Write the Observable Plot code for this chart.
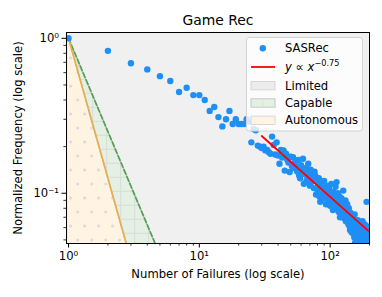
<!DOCTYPE html>
<html>
<head>
<meta charset="utf-8">
<script src="https://cdn.jsdelivr.net/npm/d3@7"></script>
<script src="https://cdn.jsdelivr.net/npm/@observablehq/plot@0.6"></script>
<style>
  html, body { margin: 0; padding: 0; background: white; }
  #chart { width: 382px; height: 297px; }
</style>
</head>
<body>
<div id="chart"></div>
<script>
// ---- data ----
const failures = [
  1,2,3,4,5,6,7,8,9,10,11,12,13,14,15,16,17,18,19,20,
  21,22,23,24,25,26,27,28,29,30,31,32,33,34,35,36,37,38,39,40,
  41,42,43,44,45,46,47,48,49,50,51,52,53,54,55,56,57,58,59,60,
  61,62,63,64,65,66,67,68,69,70,71,72,73,74,75,76,77,78,79,80,
  81,82,83,84,85,86,87,88,89,90,91,92,93,94,95,96,97,98,99,100,
  101,102,103,104,105,106,107,108,109,110,111,112,113,114,115,116,117,118,119,120,
  121,122,123,124,125,126,127,128,129,130,131,132,133,134,135,136,137,138,139,140,
  141,142,143,144,145,146,147,148,149,150,151,152,153,154,155,156,157,158,159,160,
  161,162,163,164,165,166,167,168,169,170,171,172,173,174,175,176,177,178,179,180,
  181,182,183,184,185,186,187,188,189,190,191,192,193,194,195,196,197,198,199,200
];
const frequency = [
  1.0,0.83,0.69,0.63,0.57,0.53,0.45,0.48,0.43,0.43,0.40,0.34,0.36,0.31,0.27,0.30,0.34,0.28,0.30,0.28,
  0.28,0.28,0.30,0.29,0.213,0.26,0.255,0.203,0.20,0.196,0.20,0.189,0.19,0.184,0.18,0.232,0.205,0.178,0.213,0.175,
  0.155,0.19,0.17,0.189,0.14,0.18,0.165,0.158,0.137,0.172,0.15,0.171,0.145,0.16,0.148,0.138,0.164,0.13,0.125,0.152,
  0.14,0.167,0.115,0.133,0.145,0.12,0.128,0.155,0.135,0.112,0.142,0.118,0.13,0.125,0.108,0.138,0.13,0.098,0.12,0.105,
  0.115,0.125,0.095,0.088,0.11,0.118,0.10,0.092,0.108,0.12,0.098,0.104,0.085,0.112,0.095,0.10,0.09,0.108,0.094,0.083,
  0.099,0.115,0.088,0.095,0.078,0.102,0.09,0.086,0.097,0.11,0.08,0.118,0.092,0.084,0.10,0.076,0.089,0.095,0.07,0.085,
  0.079,0.093,0.073,0.083,0.088,0.104,0.077,0.069,0.082,0.075,0.09,0.066,0.078,0.072,0.085,0.068,0.074,0.063,0.08,0.07,
  0.061,0.058,0.075,0.066,0.071,0.056,0.064,0.07,0.06,0.055,0.068,0.062,0.052,0.073,0.048,0.058,0.065,0.054,0.06,0.05,
  0.063,0.057,0.067,0.052,0.059,0.049,0.061,0.055,0.064,0.051,0.058,0.047,0.062,0.053,0.057,0.05,0.066,0.054,0.048,0.06,
  0.052,0.056,0.049,0.063,0.053,0.058,0.046,0.055,0.05,0.088,0.057,0.049,0.061,0.052,0.054,0.047,0.059,0.051,0.056,0.048
];
const seriesName = "SASRec";
const fitLabel = "y ∝ x^−0.75";
const fitCoef = 3.0;
const fitExponent = -0.75;
const fitRange = [30, 200];
const regionNames = ["Limited", "Capable", "Autonomous"];
const capableExponent = -2;
const autonomousExponent = -3;
const xTickValues = [1, 10, 100];
const xTickLabels = ["10⁰", "10¹", "10²"];
const yTickValues = [0.1, 1];
const yTickLabels = ["10⁻¹", "10⁰"];
const xMinorTicks = [2,3,4,5,6,7,8,9,20,30,40,50,60,70,80,90,200];
const yMinorTicks = [0.05,0.06,0.07,0.08,0.09,0.2,0.3,0.4,0.5,0.6,0.7,0.8,0.9];
const xDomain = [0.965, 200];
const yDomain = [0.0474, 1.09];
const titleText = "Game Rec";
const xLabel = "Number of Failures (log scale)";
const yLabel = "Normalized Frequency (log scale)";

// ---- derived ----
const points = failures.map((x, i) => ({x, y: frequency[i]}));
function boundary(k) {
  const yMin = yDomain[0];
  return [{x: 1, y: 1}, {x: Math.pow(yMin, 1 / k), y: yMin}];
}
const capable = boundary(capableExponent);
const autonomous = boundary(autonomousExponent);
const fit = fitRange.map(x => ({x, y: fitCoef * Math.pow(x, fitExponent)}));

const fmt = (vals, labels) => d => labels[vals.indexOf(d)];

const BLUE = "#1e8ff5";
const GREEN = "#56a056";
const ORANGE = "#e9ad4f";

const chart = Plot.plot({
  width: 382,
  height: 297,
  marginLeft: 66,
  marginRight: 13,
  marginTop: 32,
  marginBottom: 54,
  style: {fontFamily: "DejaVu Sans", fontSize: "11.6px", background: "white", color: "black"},
  x: {type: "log", domain: xDomain},
  y: {type: "log", domain: yDomain},
  marks: [
    Plot.frame({fill: "#f0f0f0", stroke: null}),
    Plot.areaY(capable, {x: "x", y1: yDomain[0], y2: "y", fill: "#e3f0e3"}),
    Plot.areaY(capable, {x: "x", y1: yDomain[0], y2: "y", fill: "url(#gridhatch)"}),
    Plot.areaY(autonomous, {x: "x", y1: yDomain[0], y2: "y", fill: "#fff3e1"}),
    Plot.areaY(autonomous, {x: "x", y1: yDomain[0], y2: "y", fill: "url(#dothatch)"}),
    Plot.line(capable, {x: "x", y: "y", stroke: "#c8c8c8", strokeWidth: 1.4}),
    Plot.line(autonomous, {x: "x", y: "y", stroke: "#c8c8c8", strokeWidth: 1.4}),
    Plot.line(capable, {x: "x", y: "y", stroke: GREEN, strokeWidth: 1.7, strokeDasharray: "5,2.5"}),
    Plot.line(autonomous, {x: "x", y: "y", stroke: ORANGE, strokeWidth: 1.7, strokeDasharray: "9,1.5"}),
    Plot.dot(points, {x: "x", y: "y", r: 3.2, fill: BLUE, stroke: null, clip: true}),
    Plot.line(fit, {x: "x", y: "y", stroke: "red", strokeWidth: 1.8, clip: true}),
    Plot.axisX(xTickValues, {tickSize: 4.5, tickPadding: 3.5, tickFormat: fmt(xTickValues, xTickLabels), label: null, strokeWidth: 1}),
    Plot.axisX(xMinorTicks, {tickSize: 2.6, tickFormat: () => "", label: null, strokeWidth: 0.8}),
    Plot.axisY(yTickValues, {tickSize: 4.5, tickPadding: 3, tickFormat: fmt(yTickValues, yTickLabels), label: null, strokeWidth: 1}),
    Plot.axisY(yMinorTicks, {tickSize: 2.6, tickFormat: () => "", label: null, strokeWidth: 0.8}),
    Plot.frame({stroke: "black", strokeWidth: 1}),
    Plot.text([titleText], {frameAnchor: "top", dy: -12, fontSize: 13.9, textAnchor: "middle", lineAnchor: "middle"}),
    Plot.text([xLabel], {frameAnchor: "bottom", dy: 31, fontSize: 11.6, textAnchor: "middle", lineAnchor: "middle"}),
    Plot.text([yLabel], {frameAnchor: "left", dx: -48, rotate: -90, fontSize: 11.6, textAnchor: "middle", lineAnchor: "middle"})
  ]
});

// hatch patterns
const svg = d3.select(chart);
const defs = svg.insert("defs", ":first-child");
const dp = defs.append("pattern").attr("id", "dothatch").attr("patternUnits", "userSpaceOnUse")
  .attr("width", 14).attr("height", 28);
dp.append("circle").attr("cx", 0.7).attr("cy", 2).attr("r", 1.6).attr("fill", "#dcdcdc");
dp.append("circle").attr("cx", 14.7).attr("cy", 2).attr("r", 1.6).attr("fill", "#dcdcdc");
dp.append("circle").attr("cx", 7.7).attr("cy", 16).attr("r", 1.6).attr("fill", "#dcdcdc");
const gp = defs.append("pattern").attr("id", "gridhatch").attr("patternUnits", "userSpaceOnUse")
  .attr("width", 14).attr("height", 14);
gp.append("line").attr("x1", 8.7).attr("x2", 8.7).attr("y1", 0).attr("y2", 14).attr("stroke", "#d6dcd6").attr("stroke-width", 1);
gp.append("line").attr("x1", 0).attr("x2", 14).attr("y1", 9.3).attr("y2", 9.3).attr("stroke", "#d6dcd6").attr("stroke-width", 1);

// legend
const lg = svg.append("g").attr("font-family", "DejaVu Sans").attr("font-size", 11.6)
  .attr("fill", "black").attr("text-anchor", "start");
lg.append("rect").attr("x", 246.5).attr("y", 37.5).attr("width", 116).attr("height", 93.5).attr("rx", 2.5)
  .attr("fill", "white").attr("fill-opacity", 0.8).attr("stroke", "#d3d3d3").attr("stroke-width", 1);
const tx = 285;
lg.append("circle").attr("cx", 262.8).attr("cy", 48.3).attr("r", 3.2).attr("fill", BLUE);
lg.append("text").attr("x", tx).attr("y", 48.3).attr("dy", "0.35em").text(seriesName);
lg.append("line").attr("x1", 251).attr("x2", 275).attr("y1", 67).attr("y2", 67).attr("stroke", "red").attr("stroke-width", 1.8);
const ft = lg.append("text").attr("x", tx).attr("y", 67).attr("dy", "0.35em");
const [fitBase, fitSup] = fitLabel.split("^");
const fitParts = fitBase.split(" ");
ft.append("tspan").attr("font-style", "italic").text(fitParts[0]);
ft.append("tspan").text(" " + fitParts[1] + " ");
ft.append("tspan").attr("font-style", "italic").text(fitParts[2]);
ft.append("tspan").attr("font-size", 8.2).attr("dy", -5).text(fitSup);
const lgp = defs.append("pattern").attr("id", "legendgrid").attr("patternUnits", "userSpaceOnUse")
  .attr("width", 14).attr("height", 14).attr("x", 262.5);
lgp.append("line").attr("x1", 0).attr("x2", 0).attr("y1", 0).attr("y2", 14).attr("stroke", "#d6dcd6");
const patchFills = [["#ececec"], ["#e3f0e3", "url(#legendgrid)"], ["#fff3e1"]];
regionNames.forEach((name, i) => {
  const cy = 85.7 + i * 17.3;
  patchFills[i].forEach(f => {
    lg.append("rect").attr("x", 251).attr("y", cy - 4.2).attr("width", 24).attr("height", 8.4)
      .attr("fill", f).attr("stroke", "#d0d0d0").attr("stroke-width", 0.8);
  });
  lg.append("text").attr("x", tx).attr("y", cy).attr("dy", "0.35em").text(name);
});

document.getElementById("chart").appendChild(chart);
</script>
</body>
</html>
